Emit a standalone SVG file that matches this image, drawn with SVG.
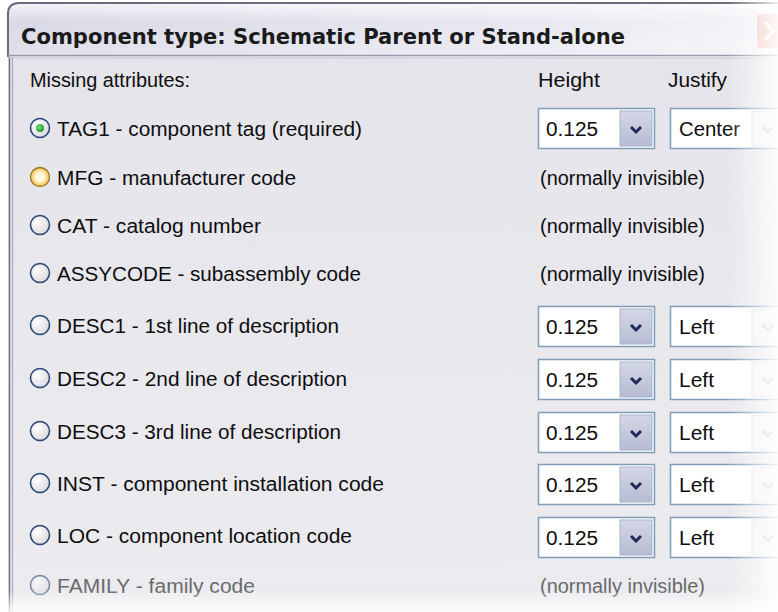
<svg xmlns="http://www.w3.org/2000/svg" width="778" height="612" viewBox="0 0 778 612">
<defs>
<linearGradient id="title" x1="0" y1="0" x2="1" y2="0">
<stop offset="0" stop-color="#d9d9e6"/>
<stop offset="0.6" stop-color="#e6e6f0"/>
<stop offset="1" stop-color="#f4f4f8"/>
</linearGradient>
<linearGradient id="titleV" x1="0" y1="0" x2="0" y2="1">
<stop offset="0" stop-color="#ffffff" stop-opacity="0.7"/>
<stop offset="0.35" stop-color="#ffffff" stop-opacity="0"/>
<stop offset="1" stop-color="#ffffff" stop-opacity="0.25"/>
</linearGradient>
<linearGradient id="body" x1="0" y1="0" x2="0" y2="1">
<stop offset="0" stop-color="#e4e4ea"/>
<stop offset="1" stop-color="#ececf0"/>
</linearGradient>
<linearGradient id="fadeR" x1="0" y1="0" x2="1" y2="0">
<stop offset="0" stop-color="#fff" stop-opacity="0"/>
<stop offset="1" stop-color="#fff" stop-opacity="0.88"/>
</linearGradient>
<linearGradient id="fadeB" x1="0" y1="0" x2="0" y2="1">
<stop offset="0" stop-color="#fff" stop-opacity="0"/>
<stop offset="1" stop-color="#fff" stop-opacity="0.85"/>
</linearGradient>
<radialGradient id="radio" cx="0.35" cy="0.35" r="0.8">
<stop offset="0" stop-color="#ffffff"/>
<stop offset="1" stop-color="#d4d4dc"/>
</radialGradient>
<radialGradient id="hover" cx="0.5" cy="0.5" r="0.5">
<stop offset="0" stop-color="#fff8e0"/>
<stop offset="0.6" stop-color="#fbe7a8"/>
<stop offset="1" stop-color="#f3c250"/>
</radialGradient>
<radialGradient id="dot" cx="0.4" cy="0.4" r="0.6">
<stop offset="0" stop-color="#7fe07f"/>
<stop offset="1" stop-color="#1a9a2a"/>
</radialGradient>
<linearGradient id="btn" x1="0" y1="0" x2="0" y2="1">
<stop offset="0" stop-color="#d4d7e6"/>
<stop offset="1" stop-color="#b7bbd2"/>
</linearGradient>
<g id="chev"><path d="M-5,-3 L0,2 L5,-3" fill="none" stroke="#1f2a56" stroke-width="3" stroke-linejoin="miter"/></g>
<g id="chevD"><path d="M-5,-3 L0,2 L5,-3" fill="none" stroke="#c4c4cc" stroke-width="2.5"/></g>
</defs>
<style>
text{font-family:"Liberation Sans",Arial,sans-serif;font-size:20px;fill:#0e0e0e}
.ttl{font-family:"DejaVu Sans","Liberation Sans",sans-serif;font-weight:bold;font-size:21px;fill:#1a1a1a}
.dim{fill:#6a6a6a}
.rb{fill:url(#radio);stroke:#2c4a72;stroke-width:1.6}
.box{fill:#ffffff;stroke:#7f9db9;stroke-width:1.5}
.btn{fill:url(#btn);stroke:#a7b4cc;stroke-width:1}
.btnD{fill:#f2f2f4;stroke:#e0e0e4;stroke-width:1}
</style>
<rect width="778" height="612" fill="#ffffff"/>
<rect x="8" y="56" width="780" height="570" fill="url(#body)"/>
<line x1="9.5" y1="56" x2="9.5" y2="612" stroke="#6f6f80" stroke-width="1.5"/>
<line x1="12.5" y1="56" x2="12.5" y2="612" stroke="#a8a8b8" stroke-width="1.2"/>
<path d="M8,57 L8,14 Q8,3 19,3 L790,3 L790,57 Z" fill="url(#title)"/>
<path d="M8,57 L8,14 Q8,3 19,3 L790,3 L790,57 Z" fill="url(#titleV)"/>
<path d="M8,57 L8,14 Q8,3 19,3 L790,3" fill="none" stroke="#6c6c7e" stroke-width="2"/>
<line x1="8" y1="55.5" x2="790" y2="55.5" stroke="#9a9aae" stroke-width="1.5"/>
<line x1="8" y1="58" x2="790" y2="58" stroke="#c8c8d4" stroke-width="1"/>
<text class="ttl" x="21" y="44" textLength="604" lengthAdjust="spacingAndGlyphs">Component type: Schematic Parent or Stand-alone</text>
<g id="close">
<rect x="757" y="14" width="30" height="34" rx="4" fill="#f0b8b0" opacity="0.85"/>
<path d="M765,22 L773,31 L765,40" fill="none" stroke="#ffffff" stroke-width="3"/>
</g>
<g id="header">
<text x="30" y="87" textLength="160" lengthAdjust="spacingAndGlyphs">Missing attributes:</text>
<text x="538" y="87" textLength="62" lengthAdjust="spacingAndGlyphs">Height</text>
<text x="668" y="87" textLength="59" lengthAdjust="spacingAndGlyphs">Justify</text>
</g>
<g id="row-tag1">
<circle class="rb" cx="40" cy="128" r="9.5"/>
<circle cx="40" cy="128" r="4" fill="url(#dot)"/>
<text x="57" y="136" textLength="305" lengthAdjust="spacingAndGlyphs">TAG1 - component tag (required)</text>
<rect class="box" x="538.5" y="108.5" width="116" height="40"/>
<rect class="btn" x="620" y="111" width="32" height="35"/>
<use href="#chev" x="636" y="130"/>
<rect class="box" x="670.5" y="108.5" width="130" height="40"/>
<rect class="btnD" x="752" y="111" width="32" height="35"/>
<use href="#chevD" x="768" y="130"/>
<text x="546" y="136" textLength="52" lengthAdjust="spacingAndGlyphs">0.125</text>
<text x="679" y="136" textLength="61" lengthAdjust="spacingAndGlyphs">Center</text>
</g>
<g id="row-mfg">
<circle cx="40" cy="177" r="9.5" fill="url(#hover)" stroke="#9a7a2a" stroke-width="1.3"/>
<circle cx="40" cy="177" r="5" fill="#fffbe8" opacity="0.8"/>
<text x="57" y="185" textLength="239" lengthAdjust="spacingAndGlyphs">MFG - manufacturer code</text>
<text x="540" y="185" textLength="165" lengthAdjust="spacingAndGlyphs">(normally invisible)</text>
</g>
<g id="row-cat">
<circle class="rb" cx="40" cy="225" r="9.5"/>
<text x="57" y="233" textLength="204" lengthAdjust="spacingAndGlyphs">CAT - catalog number</text>
<text x="540" y="233" textLength="165" lengthAdjust="spacingAndGlyphs">(normally invisible)</text>
</g>
<g id="row-assycode">
<circle class="rb" cx="40" cy="273" r="9.5"/>
<text x="57" y="281" textLength="304" lengthAdjust="spacingAndGlyphs">ASSYCODE - subassembly code</text>
<text x="540" y="281" textLength="165" lengthAdjust="spacingAndGlyphs">(normally invisible)</text>
</g>
<g id="row-desc1">
<circle class="rb" cx="40" cy="325" r="9.5"/>
<text x="57" y="333" textLength="282" lengthAdjust="spacingAndGlyphs">DESC1 - 1st line of description</text>
<rect class="box" x="538.5" y="306.5" width="116" height="40"/>
<rect class="btn" x="620" y="309" width="32" height="35"/>
<use href="#chev" x="636" y="328"/>
<rect class="box" x="670.5" y="306.5" width="130" height="40"/>
<rect class="btnD" x="752" y="309" width="32" height="35"/>
<use href="#chevD" x="768" y="328"/>
<text x="546" y="334" textLength="52" lengthAdjust="spacingAndGlyphs">0.125</text>
<text x="679" y="334" textLength="35" lengthAdjust="spacingAndGlyphs">Left</text>
</g>
<g id="row-desc2">
<circle class="rb" cx="40" cy="378" r="9.5"/>
<text x="57" y="386" textLength="290" lengthAdjust="spacingAndGlyphs">DESC2 - 2nd line of description</text>
<rect class="box" x="538.5" y="359.5" width="116" height="40"/>
<rect class="btn" x="620" y="362" width="32" height="35"/>
<use href="#chev" x="636" y="381"/>
<rect class="box" x="670.5" y="359.5" width="130" height="40"/>
<rect class="btnD" x="752" y="362" width="32" height="35"/>
<use href="#chevD" x="768" y="381"/>
<text x="546" y="387" textLength="52" lengthAdjust="spacingAndGlyphs">0.125</text>
<text x="679" y="387" textLength="35" lengthAdjust="spacingAndGlyphs">Left</text>
</g>
<g id="row-desc3">
<circle class="rb" cx="40" cy="431" r="9.5"/>
<text x="57" y="439" textLength="284" lengthAdjust="spacingAndGlyphs">DESC3 - 3rd line of description</text>
<rect class="box" x="538.5" y="412.5" width="116" height="40"/>
<rect class="btn" x="620" y="415" width="32" height="35"/>
<use href="#chev" x="636" y="434"/>
<rect class="box" x="670.5" y="412.5" width="130" height="40"/>
<rect class="btnD" x="752" y="415" width="32" height="35"/>
<use href="#chevD" x="768" y="434"/>
<text x="546" y="440" textLength="52" lengthAdjust="spacingAndGlyphs">0.125</text>
<text x="679" y="440" textLength="35" lengthAdjust="spacingAndGlyphs">Left</text>
</g>
<g id="row-inst">
<circle class="rb" cx="40" cy="483" r="9.5"/>
<text x="57" y="491" textLength="327" lengthAdjust="spacingAndGlyphs">INST - component installation code</text>
<rect class="box" x="538.5" y="464.5" width="116" height="40"/>
<rect class="btn" x="620" y="467" width="32" height="35"/>
<use href="#chev" x="636" y="486"/>
<rect class="box" x="670.5" y="464.5" width="130" height="40"/>
<rect class="btnD" x="752" y="467" width="32" height="35"/>
<use href="#chevD" x="768" y="486"/>
<text x="546" y="492" textLength="52" lengthAdjust="spacingAndGlyphs">0.125</text>
<text x="679" y="492" textLength="35" lengthAdjust="spacingAndGlyphs">Left</text>
</g>
<g id="row-loc">
<circle class="rb" cx="40" cy="535" r="9.5"/>
<text x="57" y="543" textLength="295" lengthAdjust="spacingAndGlyphs">LOC - component location code</text>
<rect class="box" x="538.5" y="517.5" width="116" height="40"/>
<rect class="btn" x="620" y="520" width="32" height="35"/>
<use href="#chev" x="636" y="539"/>
<rect class="box" x="670.5" y="517.5" width="130" height="40"/>
<rect class="btnD" x="752" y="520" width="32" height="35"/>
<use href="#chevD" x="768" y="539"/>
<text x="546" y="545" textLength="52" lengthAdjust="spacingAndGlyphs">0.125</text>
<text x="679" y="545" textLength="35" lengthAdjust="spacingAndGlyphs">Left</text>
</g>
<g id="row-family">
<circle class="rb" cx="40" cy="585" r="9.5" opacity="0.6"/>
<text class="dim" x="57" y="593" textLength="198" lengthAdjust="spacingAndGlyphs">FAMILY - family code</text>
<text class="dim" x="540" y="593" textLength="165" lengthAdjust="spacingAndGlyphs">(normally invisible)</text>
</g>
<rect x="728" y="0" width="50" height="612" fill="url(#fadeR)"/>
<rect x="0" y="590" width="778" height="22" fill="url(#fadeB)"/>
</svg>
